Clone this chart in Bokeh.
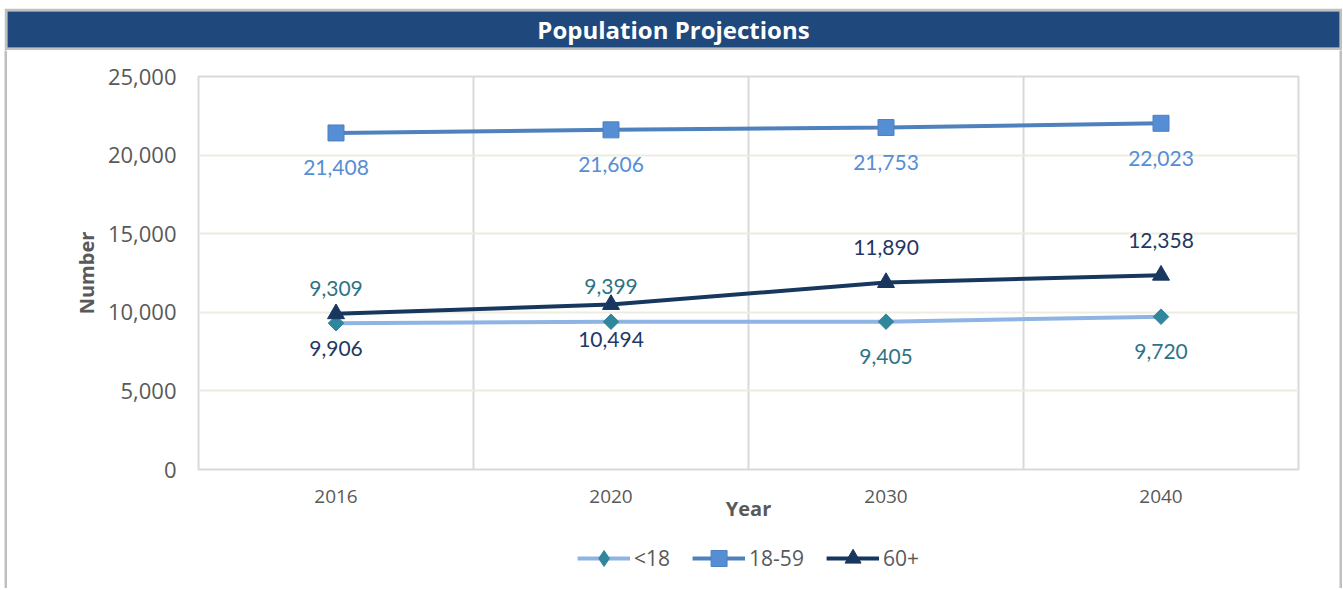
import math
from bokeh.plotting import figure
from bokeh.models import (ColumnDataSource, FixedTicker, NumeralTickFormatter,
                          Range1d, Legend, LegendItem, Spacer)
from bokeh.layouts import column, row
from bokeh.embed import file_html
from bokeh.resources import INLINE
from bokeh.core.properties import value

# ---------------- data ----------------
years = ["2016", "2020", "2030", "2040"]
under18 = [9309, 9399, 9405, 9720]
adults = [21408, 21606, 21753, 22023]
seniors = [9906, 10494, 11890, 12358]
series_names = ["<18", "18-59", "60+"]
title_text = "Population Projections"
x_title = "Year"
y_title = "Number"

# label placement per point (style): -1 = above the point, +1 = below
under18_side = [-1, -1, 1, 1]
adults_side = [1, 1, 1, 1]
seniors_side = [1, 1, -1, -1]

# ---------------- style ----------------
FONT = "Open Sans"
LFONT = "Lato"
GREY_TXT = "#595959"
NAVY_BAR = "#1f497d"
BORDER = "#c0c0c0"
W = 1332
H_CHART = 482
H_LEG = 56
BL, BR = 191, 41

c_u18_line, c_u18_mark, c_u18_txt = "#8eb4e3", "#31859c", "#2e7384"
c_ad_line, c_ad_mark, c_ad_txt = "#4f81bd", "#558ed5", "#558ed5"
c_se_line, c_se_mark, c_se_txt = "#17375e", "#17375e", "#1f3864"

xpos = [i + 0.5 for i in range(len(years))]

# ---------------- title bar ----------------
title_fig = figure(width=W + 6, height=42, x_range=Range1d(0, 1), y_range=Range1d(0, 1),
                   toolbar_location=None, output_backend="svg",
                   min_border_left=3, min_border_right=3, min_border_top=3,
                   min_border_bottom=3,
                   x_axis_type=None, y_axis_type=None,
                   background_fill_color=NAVY_BAR, border_fill_color=BORDER,
                   outline_line_color=None)
title_fig.text(x=[0.5], y=[0.5], text=[title_text], text_align="center",
               text_baseline="middle", text_color="white",
               text_font=value(FONT), text_font_style="bold",
               text_font_size="24px")


def strip():
    return figure(width=3, height=H_CHART + H_LEG, toolbar_location=None,
                  output_backend="svg", min_border=0, x_axis_type=None,
                  y_axis_type=None, background_fill_color=BORDER,
                  border_fill_color=BORDER, outline_line_color=None)


def add_series(fig, legend_style=False):
    r1 = fig.line(xpos, under18, line_color=c_u18_line, line_width=4)
    if legend_style:
        m1 = fig.scatter(xpos, under18, marker="diamond", size=17,
                         fill_color=c_u18_mark, line_color=c_u18_mark)
    else:
        m1 = fig.scatter(xpos, under18, marker="square", angle=math.pi / 4, size=11,
                         fill_color=c_u18_mark, line_color=c_u18_mark)
    r2 = fig.line(xpos, adults, line_color=c_ad_line, line_width=4)
    m2 = fig.scatter(xpos, adults, marker="square", size=16,
                     fill_color=c_ad_mark, line_color=c_ad_line, line_width=1)
    r3 = fig.line(xpos, seniors, line_color=c_se_line, line_width=4)
    m3 = fig.scatter(xpos, seniors, marker="triangle", size=17,
                     fill_color=c_se_mark, line_color=c_se_mark)
    return [(r1, m1), (r2, m2), (r3, m3)]


# ---------------- chart ----------------
p = figure(width=W, height=H_CHART, x_range=Range1d(0, len(years)),
           y_range=Range1d(0, 25000),
           toolbar_location=None, output_backend="svg",
           min_border_left=BL, min_border_right=BR, min_border_top=26,
           min_border_bottom=63, background_fill_color="white",
           border_fill_color="white", outline_line_color="#d9d9d9",
           outline_line_width=2)

# axes
p.xaxis.ticker = FixedTicker(ticks=xpos)
p.xaxis.major_label_overrides = {x: y for x, y in zip(xpos, years)}
p.yaxis.ticker = FixedTicker(ticks=[0, 5000, 10000, 15000, 20000, 25000])
p.yaxis.formatter = NumeralTickFormatter(format="0,0")
for ax in (p.xaxis, p.yaxis):
    ax.axis_line_color = None
    ax.major_tick_line_color = None
    ax.minor_tick_line_color = None
    ax.major_tick_out = 0
    ax.major_tick_in = 0
    ax.minor_tick_out = 0
    ax.major_label_text_font = FONT
    ax.major_label_text_color = GREY_TXT
    ax.axis_label_text_font = FONT
    ax.axis_label_text_font_style = "bold"
    ax.axis_label_text_color = GREY_TXT
    ax.axis_label_text_font_size = "20px"
p.xaxis.major_label_text_font_size = "19px"
p.yaxis.major_label_text_font_size = "22px"
p.xaxis.major_label_standoff = 20
p.yaxis.major_label_standoff = 22
p.xaxis.axis_label = x_title
p.yaxis.axis_label = y_title
p.xaxis.axis_label_standoff = -11
p.yaxis.axis_label_standoff = 5

# grids
p.ygrid.grid_line_color = "#eeece1"
p.ygrid.grid_line_width = 2
p.xgrid.ticker = FixedTicker(ticks=list(range(1, len(years))))
p.xgrid.grid_line_color = "#d9d9d9"
p.xgrid.grid_line_width = 2

add_series(p)

# data labels
OFF = 35
for vals, side, col in ((under18, under18_side, c_u18_txt),
                        (adults, adults_side, c_ad_txt),
                        (seniors, seniors_side, c_se_txt)):
    src = ColumnDataSource(dict(x=xpos, y=vals,
                                t=[f"{v:,}" for v in vals],
                                off=[s * OFF for s in side]))
    p.text(x="x", y="y", text="t", y_offset="off", source=src,
           text_align="center", text_baseline="middle",
           text_font=value(LFONT), text_font_size="21px", text_color=col)

# ---------------- legend strip (same series, plotted out of view) ----------------
leg_fig = figure(width=W, height=H_LEG, x_range=Range1d(0, len(years)),
                 y_range=Range1d(-2, -1), toolbar_location=None,
                 output_backend="svg", min_border_left=BL, min_border_right=BR,
                 min_border_top=0, min_border_bottom=4,
                 x_axis_type=None, y_axis_type=None,
                 background_fill_color="white", border_fill_color="white",
                 outline_line_color=None)
leg_r = add_series(leg_fig, legend_style=True)
legend = Legend(items=[LegendItem(label=n, renderers=list(rs))
                       for n, rs in zip(series_names, leg_r)],
                orientation="horizontal", location="center",
                border_line_color=None, background_fill_alpha=0,
                label_text_font=FONT, label_text_font_size="21px",
                label_text_color=GREY_TXT,
                glyph_width=53, glyph_height=40, spacing=22, label_standoff=4,
                margin=0, padding=0)
leg_fig.add_layout(legend, "center")

chart = column(title_fig,
               row(strip(), column(p, leg_fig, spacing=0), strip(), spacing=0),
               spacing=0)
layout = column(Spacer(height=8), row(Spacer(width=4), chart, spacing=0), spacing=0)

open("out.html", "w").write(file_html(layout, INLINE))
